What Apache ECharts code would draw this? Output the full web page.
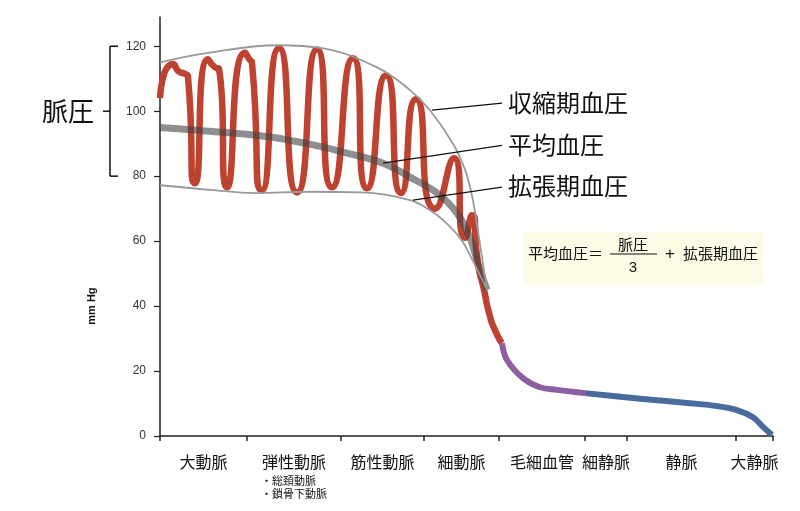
<!DOCTYPE html>
<html>
<head>
<meta charset="utf-8">
<script src="https://cdn.jsdelivr.net/npm/echarts@6/dist/echarts.min.js"></script>
<style>
html, body { margin: 0; padding: 0; background: #fff; }
#main { width: 800px; height: 511px; }
</style>
</head>
<body>
<div id="main"></div>
<script>
// 血管の区間の境界（大動脈→大静脈、横方向の距離）
var xBounds = [0, 87, 181, 264, 339, 425, 467, 576, 613];
var vesselNames = ['大動脈', '弾性動脈', '筋性動脈', '細動脈', '毛細血管', '細静脈', '静脈', '大静脈'];
var yTicks = [0, 20, 40, 60, 80, 100, 120];

// 動脈の拍動圧 (mmHg)
var arterialPulse = [
    [0, 104], [13, 114.5], [20, 112], [25, 111.5], [28, 110.5], [35, 77.8],
    [48, 116], [55, 113.5], [59, 113], [67, 76.6],
    [85, 118], [90, 115.7], [92, 115], [102, 75.7],
    [119, 119.4], [137, 75], [157, 119], [172, 76.6],
    [193, 116.3], [207, 76.3], [226, 111], [241, 74.8],
    [256, 103.7], [275, 70], [294, 85.5], [305, 61], [312, 68],
    [318, 53], [324, 45], [329, 38], [335, 32.6], [342, 28.6]
];
// 毛細血管
var capillaryPressure = [[342, 28.6], [347, 23.4], [363, 17.8], [380, 15], [397, 14.2], [425, 13.2]];
// 静脈
var venousPressure = [
    [425, 13.2], [463, 12], [497, 11], [530, 10.1], [557, 9.2],
    [577, 8], [593, 5.8], [603, 2.8], [612, 0.3]
];
// 収縮期・平均・拡張期
var systolicLine = [
    [0, 115], [45, 117.8], [118, 120.3], [162, 119.4], [217, 113.5], [250, 106.5],
    [270, 100.3], [293, 90], [305, 82], [312, 74], [318, 63], [323, 53], [327, 45]
];
var meanLine = [
    [0, 95], [62, 93.5], [112, 92], [162, 89], [183, 87.4], [223, 84], [250, 79.7],
    [277, 74.8], [297, 68.6], [310, 61], [318, 53], [327, 45]
];
var diastolicLine = [
    [0, 77.2], [50, 75.8], [95, 74.8], [150, 75.2], [200, 75], [250, 72.6],
    [270, 69.5], [283, 66.5], [300, 61], [310, 55.7], [320, 49.5], [327, 45]
];

var jp = "'Noto Sans CJK JP', sans-serif";
var num = "'Liberation Sans', Arial, sans-serif";

// ラベル位置は区間の中央
var labelCenters = [];
for (var i = 0; i < vesselNames.length; i++) {
    labelCenters.push((xBounds[i] + xBounds[i + 1]) / 2);
}

function leader(from, to, name) {
    return {
        symbol: ['none', 'none'],
        silent: true,
        animation: false,
        lineStyle: { color: '#111', width: 1.2, type: 'solid' },
        label: { show: true, position: 'end', distance: 6, formatter: name, fontSize: 24, color: '#111', fontFamily: jp },
        data: [[{ coord: from }, { coord: to }]]
    };
}

var option = {
    animation: false,
    backgroundColor: '#fff',
    grid: { left: 160, right: 27, top: 17, bottom: 75, outerBoundsMode: 'none' },
    xAxis: {
        type: 'value', min: 0, max: 613,
        splitLine: { show: false },
        axisLine: { show: true, lineStyle: { color: '#222', width: 1.5 } },
        axisTick: { show: true, length: 5, customValues: xBounds, lineStyle: { color: '#222', width: 1.5 } },
        axisLabel: {
            customValues: labelCenters,
            margin: 13,
            fontSize: 16,
            lineHeight: 25,
            color: '#111',
            fontFamily: jp,
            formatter: function (v) {
                var idx = labelCenters.indexOf(v);
                var name = vesselNames[idx] || '';
                if (name === '弾性動脈') {
                    return name + '\n{s|・総頚動脈}\n{s|・鎖骨下動脈}';
                }
                return name;
            },
            rich: {
                s: { fontSize: 11, lineHeight: 13, width: 66, align: 'left', color: '#111', fontFamily: jp }
            }
        }
    },
    yAxis: {
        type: 'value', min: 0, max: 129,
        splitLine: { show: false },
        axisLine: { show: true, lineStyle: { color: '#222', width: 1.5 } },
        axisTick: { show: true, length: 6, customValues: yTicks, lineStyle: { color: '#222', width: 1.2 } },
        axisLabel: { customValues: yTicks, margin: 14, fontSize: 12, color: '#333', fontFamily: num }
    },
    series: [
        {
            name: '動脈', type: 'line', data: arterialPulse, smooth: 0.75,
            showSymbol: false, lineStyle: { color: '#bd4230', width: 6.5 }, z: 2
        },
        {
            name: '毛細血管', type: 'line', data: capillaryPressure, smooth: 0.4,
            showSymbol: false, lineStyle: { color: '#8e5ea2', width: 6 }, z: 2
        },
        {
            name: '静脈', type: 'line', data: venousPressure, smooth: 0.4,
            showSymbol: false, lineStyle: { color: '#4a6b9e', width: 6 }, z: 2
        },
        {
            name: '平均血圧', type: 'line', data: meanLine, smooth: 0.4,
            showSymbol: false, lineStyle: { color: '#444', width: 7, opacity: 0.6 }, z: 3,
            markLine: leader([223, 84], [342, 89.5], '平均血圧')
        },
        {
            name: '収縮期血圧', type: 'line', data: systolicLine, smooth: 0.4,
            showSymbol: false, lineStyle: { color: '#999', width: 1.8 }, z: 4,
            markLine: leader([272, 100.3], [342, 102.5], '収縮期血圧')
        },
        {
            name: '拡張期血圧', type: 'line', data: diastolicLine, smooth: 0.4,
            showSymbol: false, lineStyle: { color: '#999', width: 1.8 }, z: 4,
            markLine: leader([253, 72.6], [342, 76.6], '拡張期血圧')
        }
    ]
};

var chart = echarts.init(document.getElementById('main'));
chart.setOption(option);

// 脈圧の括弧と注記
var y120 = chart.convertToPixel({ yAxisIndex: 0 }, 120);
var y100 = chart.convertToPixel({ yAxisIndex: 0 }, 100);
var y80 = chart.convertToPixel({ yAxisIndex: 0 }, 80);
var y40 = chart.convertToPixel({ yAxisIndex: 0 }, 40);
var bracketStyle = { stroke: '#111', lineWidth: 1.5 };

chart.setOption({
    graphic: [
        { type: 'line', shape: { x1: 110, y1: y120, x2: 110, y2: y80 }, style: bracketStyle },
        { type: 'line', shape: { x1: 110, y1: y120, x2: 118, y2: y120 }, style: bracketStyle },
        { type: 'line', shape: { x1: 110, y1: y80, x2: 118, y2: y80 }, style: bracketStyle },
        { type: 'line', shape: { x1: 103, y1: y100, x2: 110, y2: y100 }, style: bracketStyle },
        { type: 'text', x: 94, y: y100, style: { text: '脈圧', fontSize: 26, fill: '#111', fontFamily: jp, align: 'right', verticalAlign: 'middle' } },
        { type: 'text', x: 92, y: y40, rotation: Math.PI / 2, style: { text: 'mm Hg', fontSize: 11, fontWeight: 'bold', fill: '#111', fontFamily: num, align: 'center', verticalAlign: 'middle' } },
        // 平均血圧の式
        { type: 'rect', shape: { x: 523, y: 232, width: 240, height: 53 }, style: { fill: '#fcfbe6' } },
        { type: 'text', x: 528, y: 253, style: { text: '平均血圧＝', fontSize: 15, fill: '#111', fontFamily: jp, verticalAlign: 'middle' } },
        { type: 'text', x: 633, y: 244, style: { text: '脈圧', fontSize: 15, fill: '#111', fontFamily: jp, align: 'center', verticalAlign: 'middle' } },
        { type: 'line', shape: { x1: 610, y1: 254, x2: 657, y2: 254 }, style: { stroke: '#111', lineWidth: 1 } },
        { type: 'text', x: 633, y: 268, style: { text: '3', fontSize: 15, fill: '#111', fontFamily: num, align: 'center', verticalAlign: 'middle' } },
        { type: 'text', x: 670, y: 254, style: { text: '+', fontSize: 17, fill: '#111', fontFamily: num, align: 'center', verticalAlign: 'middle' } },
        { type: 'text', x: 683, y: 253, style: { text: '拡張期血圧', fontSize: 15, fill: '#111', fontFamily: jp, verticalAlign: 'middle' } }
    ]
});
</script>
</body>
</html>
